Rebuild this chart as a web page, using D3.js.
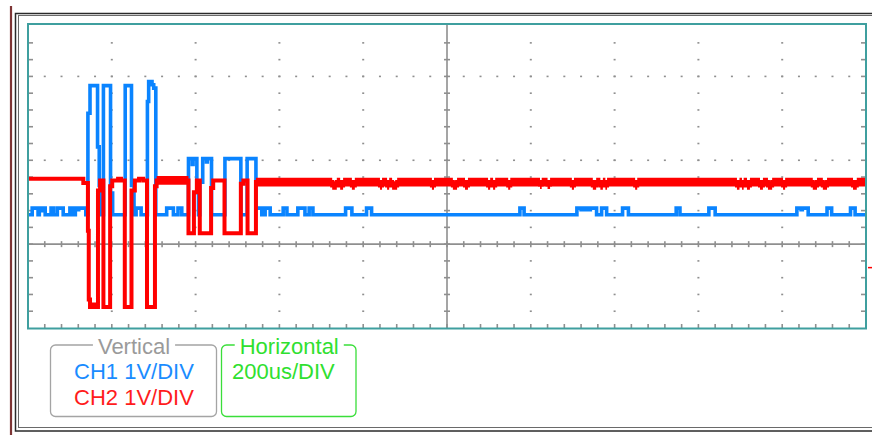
<!DOCTYPE html>
<html><head><meta charset="utf-8">
<script src="https://cdn.jsdelivr.net/npm/d3@7"></script>
<style>
html,body{margin:0;padding:0;background:#fff;}
svg{display:block;}
text{font-family:"Liberation Sans",Arial,sans-serif;}
</style></head><body>
<svg id="c" width="872" height="435"></svg>
<script>
// ---- data ----
// time axis in µs (200 µs/div, 10 div), level in V (1 V/div)
const xDomain = [0, 2000];
const yDomain = [-1, 2.625];
const xMajorStep = 200, xMinorStep = 40;
const yMajorStep = 1, yMinorStep = 0.2;

// CH1 (blue) step points: [time µs, level V]
const ch1 = [
 [0,0.35],[10,0.43],[24,0.35],[27,0.43],[33,0.40],[35,0.43],[41,0.35],[55,0.43],[61,0.35],[70,0.43],[84,0.35],
 [100,0.43],[108,0.35],[113,0.43],[118,0.41],[121,0.43],[138,0.35],
 [143,1.56],[148,1.89],[166,1.16],[170,0.70],[174,0.35],
 [180,1.89],[197,0.61],[202,0.35],
 [232,1.89],[247,0.70],[253,0.35],[258,0.43],[270,0.35],
 [285,1.70],[288,1.94],[296,1.90],[300,1.86],[305,0.35],
 [331,0.43],[347,0.35],[358,0.43],[367,0.35],
 [383,1.02],[392,0.95],[394,1.02],[403,0.70],[407,0.35],
 [410,0.74],[417,1.02],[426,0.98],[428,1.02],[438,0.35],
 [470,1.02],[508,0.35],
 [523,1.02],[544,0.43],[558,0.35],
 [566,0.43],[578,0.35],[609,0.43],[618,0.35],[644,0.43],[661,0.35],[671,0.43],[680,0.35],
 [758,0.43],[773,0.35],[808,0.43],[820,0.35],[1174,0.43],[1184,0.35],
 [1310,0.43],[1320,0.41],[1322,0.43],[1330,0.41],[1332,0.43],[1340,0.41],[1342,0.43],[1357,0.35],
 [1369,0.43],[1381,0.35],[1419,0.43],[1433,0.35],[1547,0.43],[1556,0.35],[1625,0.43],[1640,0.35],
 [1835,0.43],[1845,0.41],[1848,0.43],[1862,0.35],[1907,0.43],[1918,0.35],[1963,0.43],[1974,0.35],[2000,0.35]
];

// CH2 (red) step points: [time µs, level V]
const ch2 = [
 [0,0.78],[132,0.73],[143,0.16],[145,-0.66],[148,-0.75],[152,-0.72],[158,-0.75],[167,0.64],[172,0.76],
 [180,-0.75],[196,0.69],[201,0.76],[215,0.78],[222,0.76],
 [231,-0.75],[247,0.64],[255,0.76],[265,0.78],[275,0.76],
 [284,-0.75],[303,0.69],[307,0.76],
 [383,0.13],[396,0.62],[403,0.76],
 [410,0.13],[437,0.67],[442,0.76],
 [469,0.13],[508,0.72],[514,0.76],
 [524,0.13],[544,0.74],
 [726,0.70],[737,0.74],[745,0.70],[752,0.74],[773,0.70],[780,0.74],[840,0.70],[845,0.74],[857,0.70],[862,0.74],
 [869,0.70],[881,0.74],[964,0.70],[969,0.74],[1014,0.70],[1024,0.74],[1043,0.70],[1050,0.74],
 [1098,0.70],[1103,0.74],[1110,0.70],[1115,0.74],[1146,0.70],[1151,0.74],[1222,0.71],[1226,0.74],
 [1240,0.71],[1246,0.74],[1298,0.70],[1303,0.74],[1348,0.70],[1356,0.74],[1366,0.70],[1372,0.74],
 [1378,0.70],[1382,0.74],[1449,0.70],[1454,0.74],[1692,0.70],[1698,0.74],[1704,0.70],[1708,0.74],
 [1716,0.70],[1723,0.74],[1747,0.70],[1754,0.74],[1766,0.70],[1776,0.74],[1802,0.70],[1807,0.74],
 [1873,0.70],[1883,0.74],[1897,0.70],[1907,0.74],[1969,0.70],[1978,0.74],[2000,0.74]
];
// time spans where CH2 shows its thick ripple band
const ch2RippleSpans = [[307,383],[544,2000]];
// CH2 level marker at right edge (V)
const ch2Marker = -0.28;

const legendVertical = ["Vertical", "CH1 1V/DIV", "CH2 1V/DIV"];
const legendHorizontal = ["Horizontal", "200us/DIV"];

// ---- drawing ----
const svg = d3.select("#c");
const L = 28, R = 866, T = 24, B = 328;
const x = d3.scaleLinear().domain(xDomain).range([L, R]);
const y = d3.scaleLinear().domain(yDomain).range([B, T]);

const blue = "#0a84ff", red = "#ff0000", teal = "#3f9f9f", gridC = "#8f8f8f";

// outer window frame
svg.append("line").attr("x1",11).attr("x2",11).attr("y1",6).attr("y2",435)
  .attr("stroke","#7e3535").attr("stroke-width",2.2);
svg.append("rect").attr("x",15.5).attr("y",13.5).attr("width",900).attr("height",417.5)
  .attr("fill","none").attr("stroke","#2a2a2a").attr("stroke-width",1.5);
svg.append("rect").attr("x",18.5).attr("y",15.5).attr("width",900).attr("height",412)
  .attr("fill","none").attr("stroke","#6a6a6a").attr("stroke-width",1);

const g = svg.append("g");
const xMinor = d3.range(Math.round(xDomain[0]/xMinorStep), Math.round(xDomain[1]/xMinorStep)+1).map(i => i*xMinorStep);
const xMajor = d3.range(Math.round(xDomain[0]/xMajorStep), Math.round(xDomain[1]/xMajorStep)+1).map(i => i*xMajorStep);
const yMinor = d3.range(-5, 13).map(i => +(i*yMinorStep).toFixed(2));
const yMajor = [-1, 0, 1, 2];
const xCenter = 1000, yZero = 0;

// dotted major grid
const dots = [];
xMajor.filter(t => t > xDomain[0] && t < xDomain[1] && t !== xCenter)
  .forEach(t => yMinor.filter(v => v > yDomain[0]).forEach(v => dots.push([t, v])));
yMajor.filter(v => v > yDomain[0] && v !== yZero)
  .forEach(v => xMinor.filter(t => t > xDomain[0] && t < xDomain[1]).forEach(t => dots.push([t, v])));
g.selectAll("rect.dot").data(dots).join("rect").attr("class","dot")
  .attr("x", d => x(d[0]) - 1).attr("y", d => y(d[1]) - 0.8)
  .attr("width", 2).attr("height", 1.6).attr("fill", gridC);

// center lines
g.append("line").attr("x1", x(xCenter)).attr("x2", x(xCenter)).attr("y1", T).attr("y2", B)
  .attr("stroke", gridC).attr("stroke-width", 1.6);
g.append("line").attr("x1", L).attr("x2", R).attr("y1", y(yZero)).attr("y2", y(yZero))
  .attr("stroke", gridC).attr("stroke-width", 1.6);
// ticks on center lines
g.selectAll("line.cty").data(yMinor.filter(v => v > yDomain[0])).join("line").attr("class","cty")
  .attr("x1", x(xCenter) - 3).attr("x2", x(xCenter) + 3).attr("y1", d => y(d)).attr("y2", d => y(d))
  .attr("stroke", gridC).attr("stroke-width", 1.6);
g.selectAll("line.ctx").data(xMinor.filter(t => t > xDomain[0] && t < xDomain[1])).join("line").attr("class","ctx")
  .attr("x1", d => x(d)).attr("x2", d => x(d)).attr("y1", y(yZero) - 3).attr("y2", y(yZero) + 3)
  .attr("stroke", gridC).attr("stroke-width", 1.6);
// edge ticks
g.selectAll("line.lt").data(yMinor.filter(v => v > yDomain[0])).join("line").attr("class","lt")
  .attr("x1", L).attr("x2", L + 5).attr("y1", d => y(d)).attr("y2", d => y(d))
  .attr("stroke", gridC).attr("stroke-width", 1.6);
g.selectAll("line.rt").data(yMinor.filter(v => v > yDomain[0])).join("line").attr("class","rt")
  .attr("x1", R - 5).attr("x2", R).attr("y1", d => y(d)).attr("y2", d => y(d))
  .attr("stroke", gridC).attr("stroke-width", 1.6);
g.selectAll("line.bt").data(xMinor.filter(t => t > xDomain[0] && t < xDomain[1])).join("line").attr("class","bt")
  .attr("x1", d => x(d)).attr("x2", d => x(d)).attr("y1", B - 4).attr("y2", B)
  .attr("stroke", gridC).attr("stroke-width", 1.6);

// traces
svg.append("clipPath").attr("id","pc").append("rect")
  .attr("x", L).attr("y", T).attr("width", R - L).attr("height", B - T);
const tr = svg.append("g").attr("clip-path","url(#pc)");
const line = d3.line().x(d => x(d[0])).y(d => y(d[1])).curve(d3.curveStepAfter);

function sliceSteps(data, t0, t1) {
  let cur = data[0][1];
  data.forEach(([t, v]) => { if (t <= t0) cur = v; });
  const out = [[t0, cur]];
  data.forEach(([t, v]) => { if (t > t0 && t < t1) out.push([t, v]); });
  out.push([t1, out[out.length - 1][1]]);
  return out;
}

tr.append("path").datum(ch1).attr("d", line).attr("fill","none")
  .attr("stroke", blue).attr("stroke-width", 3.6);
tr.append("path").datum(ch2).attr("d", line).attr("fill","none")
  .attr("stroke", red).attr("stroke-width", 4);
const band = d3.area().x(d => x(d[0])).y0(d => y(d[1]) + 4.3).y1(d => y(d[1]) - 4.3).curve(d3.curveStepAfter);
ch2RippleSpans.forEach(([a, b]) => {
  tr.append("path").datum(sliceSteps(ch2, a, b)).attr("d", band).attr("fill", red);
});

// plot border
svg.append("rect").attr("x", L).attr("y", T).attr("width", R - L).attr("height", B - T + 0.5)
  .attr("fill","none").attr("stroke", teal).attr("stroke-width", 2);

// CH2 marker
svg.append("line").attr("x1", R + 2).attr("x2", R + 6).attr("y1", y(ch2Marker)).attr("y2", y(ch2Marker))
  .attr("stroke", red).attr("stroke-width", 1.5);

// legend boxes
function legendBox(x0, w, title, titleColor, boxColor, lines, anchor, tx) {
  const lg = svg.append("g");
  lg.append("rect").attr("x", x0).attr("y", 345).attr("width", w).attr("height", 71.5).attr("rx", 5)
    .attr("fill","none").attr("stroke", boxColor).attr("stroke-width", 1.3);
  const tt = lg.append("text").attr("x", x0 + w/2 + 0.5).attr("y", 354).attr("text-anchor","middle")
    .attr("font-size", 22).attr("fill", titleColor).text(title);
  const bb = tt.node().getBBox();
  lg.insert("rect", "text").attr("x", bb.x - 5).attr("y", 342).attr("width", bb.width + 10).attr("height", 6)
    .attr("fill", "#fff");
  lines.forEach((l, i) => {
    lg.append("text").attr("x", tx).attr("y", 379 + i*26).attr("text-anchor", anchor)
      .attr("font-size", 22).attr("fill", l.color).text(l.text);
  });
}
legendBox(50.5, 166, legendVertical[0], "#9a9a9a", "#a4a4a4",
  [{text: legendVertical[1], color: "#1a8cff"}, {text: legendVertical[2], color: "#ff1c1c"}], "middle", 134);
legendBox(221.5, 134.5, legendHorizontal[0], "#2fe02f", "#3ade3a",
  [{text: legendHorizontal[1], color: "#2fe02f"}], "start", 232);
</script>
</body></html>
